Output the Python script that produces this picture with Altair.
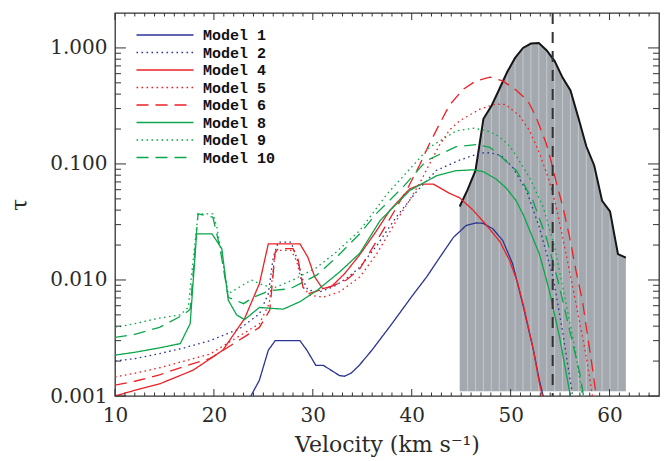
import altair as alt
import pandas as pd

# ---------------- data ----------------
# observed spectrum (grey histogram-like profile)
spec_v = [44.85, 45.65, 46.45, 47.25, 48.05, 48.85, 49.65, 50.45, 51.25, 52.05, 52.85,
          53.65, 54.45, 55.25, 56.05, 56.85, 57.65, 58.45, 59.25, 60.05, 60.85, 61.65]
spec_tau = [0.043, 0.060, 0.088, 0.245, 0.315, 0.44, 0.62, 0.82, 1.00, 1.09, 1.10,
            0.95, 0.77, 0.555, 0.43, 0.25, 0.142, 0.097, 0.048, 0.039, 0.0167, 0.0156]
spec_floor = 0.0011
vline_v = [54.25]

m1_v = [23.6, 24.6, 25.5, 26.2, 28.7, 29.4, 30.3, 31.05, 32.7, 33.2, 33.9, 34.7, 36.0, 38.0,
        40.0, 41.5, 42.8, 44.2, 45.5, 46.5, 47.2, 48.2, 49.2, 50.2, 51.2, 52.3, 52.9, 53.5]
m1_t = [0.00095, 0.00137, 0.00248, 0.0030, 0.0030, 0.00248, 0.00184, 0.00184, 0.0015, 0.00148,
        0.00158, 0.00184, 0.0025, 0.0042, 0.0072, 0.0106, 0.0155, 0.0232, 0.0295, 0.031, 0.0308,
        0.0276, 0.0219, 0.0138, 0.0063, 0.0025, 0.00137, 0.00085]

m2_v = [10, 12, 14.5, 17, 19.6, 22.6, 24.6, 25.5, 26.0, 26.5, 27.8, 28.35, 29.0, 29.5, 30.7,
        32.05, 33.4, 34.75, 36.5, 38.45, 40.5, 42.5, 44.85, 46.9, 47.9, 49.05, 50.2, 51.6, 52.9,
        54.3, 55.3, 55.8, 56.4]
m2_t = [0.0020, 0.0021, 0.00232, 0.0026, 0.0030, 0.0038, 0.0051, 0.0076, 0.0157, 0.0212, 0.0212,
        0.0157, 0.010, 0.0082, 0.0079, 0.0087, 0.0103, 0.0129, 0.020, 0.035, 0.058, 0.088, 0.108,
        0.124, 0.125, 0.118, 0.0935, 0.059, 0.0285, 0.0105, 0.0034, 0.0018, 0.00085]

m4_v = [10, 12, 14.5, 17.9, 20.9, 23.1, 24.6, 25.5, 28.7, 29.5, 30.2, 31.0, 31.9, 33.2, 34.7,
        36.5, 37.8, 39.8, 41.0, 42.2, 43.8, 44.85, 46.2, 47.5, 48.9, 49.9, 50.7, 51.3, 52.3,
        52.9, 53.4]
m4_t = [0.00100, 0.00112, 0.00127, 0.00167, 0.00248, 0.00465, 0.0093, 0.0205, 0.0205, 0.0157,
        0.0106, 0.0084, 0.0088, 0.0113, 0.0163, 0.027, 0.040, 0.061, 0.067, 0.067, 0.056, 0.051,
        0.040, 0.030, 0.0215, 0.0147, 0.0095, 0.006, 0.0025, 0.0013, 0.00085]

m5_v = [10, 12, 14.5, 17, 19.6, 22.6, 24.6, 25.6, 26.2, 26.7, 27.8, 28.35, 29.0, 29.7, 31.0,
        32.7, 34.75, 36.5, 38.45, 39.6, 40.8, 41.8, 42.8, 43.8, 44.85, 46.9, 48.5, 49.5, 50.9,
        51.9, 52.9, 53.9, 54.6, 55.6, 56.6, 57.6, 58.4]
m5_t = [0.00146, 0.00157, 0.00175, 0.0020, 0.0023, 0.0033, 0.0042, 0.0063, 0.0174, 0.018, 0.018,
        0.0147, 0.0087, 0.0074, 0.0071, 0.0079, 0.0106, 0.017, 0.0325, 0.046, 0.068, 0.10, 0.145,
        0.195, 0.236, 0.297, 0.328, 0.325, 0.26, 0.195, 0.125, 0.072, 0.043, 0.0168, 0.0063,
        0.0023, 0.00085]

m6_v = [10, 12, 14.5, 17, 19.6, 23.0, 24.6, 25.65, 26.2, 26.5, 28.0, 28.5, 29.0, 29.5, 31.4,
        33.4, 34.75, 36.5, 38.45, 39.6, 40.8, 41.8, 42.8, 43.8, 45.2, 46.5, 47.9, 49.2, 50.6,
        51.75, 52.6, 53.6, 54.1, 54.6, 55.3, 55.96, 56.6, 57.3, 57.8, 58.3, 58.75]
m6_t = [0.00124, 0.00134, 0.00152, 0.0018, 0.0021, 0.0032, 0.0039, 0.0055, 0.0174, 0.0186,
        0.0186, 0.0153, 0.0087, 0.0076, 0.0085, 0.010, 0.0125, 0.022, 0.042, 0.062, 0.098, 0.15,
        0.22, 0.32, 0.44, 0.52, 0.56, 0.52, 0.43, 0.35, 0.25, 0.15, 0.105, 0.07, 0.042, 0.0234,
        0.0121, 0.0063, 0.0032, 0.00167, 0.00085]

m8_v = [10, 12, 14.5, 16.6, 17.6, 18.25, 19.8, 20.8, 21.45, 22.3, 23.1, 24.6, 27.0, 28.7, 30.4,
        32.7, 34.75, 36.8, 39.8, 42.5, 44.5, 46.2, 47.2, 48.55, 49.55, 50.5, 51.25, 52.9, 53.9,
        54.95, 56.2]
m8_t = [0.00225, 0.00238, 0.0026, 0.00283, 0.0042, 0.025, 0.025, 0.0186, 0.0067, 0.0050,
        0.00455, 0.0058, 0.0056, 0.0065, 0.0081, 0.0117, 0.0170, 0.0325, 0.059, 0.079, 0.0875,
        0.089, 0.086, 0.074, 0.062, 0.049, 0.037, 0.0168, 0.0082, 0.0032, 0.00085]

m9_v = [10, 12, 14.5, 16.6, 17.4, 18.4, 19.9, 20.3, 21.45, 22.6, 23.8, 24.6, 26.0, 28.0, 30.4,
        32.4, 34.75, 35.75, 37.5, 39.5, 41.8, 44.5, 46.2, 47.5, 48.55, 49.55, 50.25, 51.9, 53.3,
        54.45, 55.6, 56.6, 57.4]
m9_t = [0.0039, 0.0042, 0.0047, 0.0050, 0.0058, 0.0372, 0.0372, 0.0285, 0.0076, 0.0087, 0.010,
        0.0093, 0.0085, 0.010, 0.0128, 0.0175, 0.0267, 0.0347, 0.055, 0.0847, 0.139, 0.193,
        0.203, 0.195, 0.178, 0.153, 0.13, 0.0767, 0.0423, 0.0192, 0.0063, 0.0023, 0.00085]

m10_v = [10, 12, 14.5, 16.9, 17.6, 18.4, 19.9, 20.6, 21.45, 23.0, 24.0, 25.65, 27.7, 30.4, 32.4,
         34.75, 36.4, 39.1, 41.5, 44.5, 46.5, 47.9, 48.9, 50.6, 52.25, 53.6, 54.95, 55.96, 57.0,
         57.5]
m10_t = [0.0032, 0.0034, 0.0039, 0.0050, 0.0056, 0.0372, 0.0347, 0.0192, 0.0071, 0.00625,
         0.0071, 0.0081, 0.0084, 0.011, 0.0157, 0.025, 0.0372, 0.063, 0.107, 0.141, 0.147, 0.139,
         0.118, 0.0875, 0.0483, 0.0234, 0.0087, 0.0037, 0.00156, 0.00085]

models = ["Model 1", "Model 2", "Model 4", "Model 5", "Model 6", "Model 8", "Model 9", "Model 10"]
model_v = [m1_v, m2_v, m4_v, m5_v, m6_v, m8_v, m9_v, m10_v]
model_t = [m1_t, m2_t, m4_t, m5_t, m6_t, m8_t, m9_t, m10_t]

# axis tick values / labels
x_major = [10, 20, 30, 40, 50, 60]
x_minor = [v for v in range(11, 65) if v % 10 != 0]
y_major = [0.001, 0.01, 0.1, 1.0]
y_minor = [m * d for d in (0.001, 0.01, 0.1) for m in range(2, 10)]

# ---------------- styles ----------------
NAVY, RED, GREEN = "#2b3494", "#ed2024", "#0ca64b"
colors = [NAVY, NAVY, RED, RED, RED, GREEN, GREEN, GREEN]
SOLID, DOT, DASH = [1, 0], [1.6, 3.4], [12, 7]
dashes = [SOLID, DOT, SOLID, DOT, DASH, SOLID, DOT, DASH]
W, H = 544, 383
FRAME = "#333333"
SERIF = "DejaVu Serif"

rows = []
for name, vs, ts in zip(models, model_v, model_t):
    for v, t in zip(vs, ts):
        rows.append({"model": name, "v": v, "tau": t})
df = pd.DataFrame(rows)
spec_df = pd.DataFrame({"v": spec_v, "tau": spec_tau})

xs = alt.Scale(domain=[10, 65], nice=False, zero=False)
ys = alt.Scale(type="log", domain=[0.001, 2.0], nice=False)

x_axis = alt.Axis(values=x_major, format="d", title="Velocity (km s\u207b\u00b9)", grid=False,
                  domain=False, ticks=False, labelFlush=False, labelPadding=9, titlePadding=9,
                  labelFont=SERIF, labelFontSize=20, titleFont=SERIF, titleFontSize=22,
                  titleFontWeight="normal", labelColor="#2a2a2a", titleColor="#2a2a2a")
y_axis = alt.Axis(values=y_major, format=".3f", title="\u03c4", grid=False, domain=False,
                  ticks=False, labelFlush=False, labelPadding=8, titlePadding=18,
                  labelFont=SERIF, labelFontSize=20, titleFont=SERIF, titleFontSize=22,
                  titleFontWeight="normal", labelColor="#2a2a2a", titleColor="#2a2a2a")

area = alt.Chart(spec_df).mark_area(color="#a3a9ae", clip=True).encode(
    x=alt.X("v:Q", scale=xs, axis=x_axis),
    y=alt.Y("tau:Q", scale=ys, axis=y_axis),
    y2=alt.datum(spec_floor),
)
channels = alt.Chart(spec_df.iloc[1:-1]).mark_rule(color="#c3c8cc", strokeWidth=1).encode(
    x="v:Q", y="tau:Q", y2=alt.datum(spec_floor))
outline = alt.Chart(spec_df).mark_line(color="#151515", strokeWidth=2).encode(
    x="v:Q", y="tau:Q")

leg = alt.Legend(orient="none", legendX=42, legendY=14, title=None, padding=0,
                 symbolType="M-4,0L4,0", symbolSize=203, symbolStrokeWidth=1.4,
                 labelFont="Liberation Mono", labelFontSize=15, labelFontWeight="bold",
                 labelColor="#111", labelOffset=30, rowPadding=1.5)
curves = alt.Chart(df).mark_line(strokeWidth=1.3, clip=True).encode(
    x="v:Q", y="tau:Q",
    color=alt.Color("model:N", scale=alt.Scale(domain=models, range=colors), legend=leg),
    strokeDash=alt.StrokeDash("model:N", scale=alt.Scale(domain=models, range=dashes), legend=leg),
)
vline = alt.Chart(pd.DataFrame({"v": vline_v})).mark_rule(
    color="#333333", strokeWidth=2, strokeDash=[11, 8]).encode(x="v:Q")

xM = pd.DataFrame({"v": x_major})
xm = pd.DataFrame({"v": x_minor})
yM = pd.DataFrame({"tau": y_major})
ym = pd.DataFrame({"tau": y_minor})
tick = dict(color=FRAME, strokeWidth=1)
ticks = [
    alt.Chart(xM).mark_rule(**tick).encode(x="v:Q", y=alt.value(H), y2=alt.value(H - 7)),
    alt.Chart(xM).mark_rule(**tick).encode(x="v:Q", y=alt.value(0), y2=alt.value(7)),
    alt.Chart(xm).mark_rule(**tick).encode(x="v:Q", y=alt.value(H), y2=alt.value(H - 3.5)),
    alt.Chart(xm).mark_rule(**tick).encode(x="v:Q", y=alt.value(0), y2=alt.value(3.5)),
    alt.Chart(yM).mark_rule(**tick).encode(y="tau:Q", x=alt.value(0), x2=alt.value(11)),
    alt.Chart(yM).mark_rule(**tick).encode(y="tau:Q", x=alt.value(W), x2=alt.value(W - 11)),
    alt.Chart(ym).mark_rule(**tick).encode(y="tau:Q", x=alt.value(0), x2=alt.value(6)),
    alt.Chart(ym).mark_rule(**tick).encode(y="tau:Q", x=alt.value(W), x2=alt.value(W - 6)),
]

chart = alt.layer(area, channels, outline, curves, vline, *ticks).properties(
    width=W, height=H,
    padding={"left": 115, "top": 13, "right": 6, "bottom": 65},
    autosize=alt.AutoSizeParams(type="none"),
    background="white",
).configure_view(stroke=FRAME, strokeWidth=1.3)

chart.save("out.html", embed_options={"renderer": "svg", "actions": False})
